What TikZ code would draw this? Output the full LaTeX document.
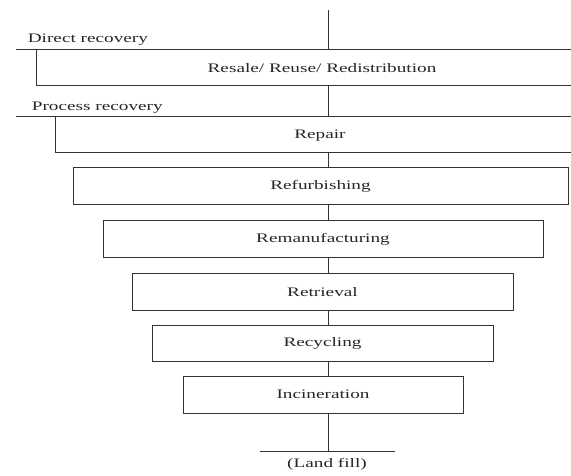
\documentclass[tikz,border=0pt]{standalone}
\usepackage{fontspec}
\setmainfont{Liberation Serif}[FakeStretch=1.48]
\begin{document}
\begin{tikzpicture}[x=1pt,y=-1pt,line width=1pt,
  ink/.style={draw=black!80},
  every node/.style={font=\fontsize{13}{15}\selectfont, text=black!85},
  stagebox/.style={draw=black!80, rectangle, inner sep=0pt}]
\useasboundingbox (0,0) rectangle (571,476);
% spine
\coordinate (spine) at (328,0);
\coordinate (top) at (328,10);
% Direct recovery
\coordinate (drL) at (16,50);
\coordinate (drR) at (571,50);
\coordinate (rbL) at (36,86);
\coordinate (rbR) at (571,86);
\node[anchor=west] (drlab) at (24,40) {Direct recovery};
\node (resale) at (322,68) {Resale/ Reuse/ Redistribution};
% Process recovery
\coordinate (prL) at (16,117);
\coordinate (prR) at (571,117);
\coordinate (pbL) at (55,153);
\coordinate (pbR) at (571,153);
\node[anchor=west] (prlab) at (28,108) {Process recovery};
\node (repair) at (320,136) {Repair};
% stages
\node[stagebox, minimum width=495pt, minimum height=37pt] (refurb) at (320.5,186.5) {Refurbishing};
\node[stagebox, minimum width=440pt, minimum height=37pt] (reman) at (323,239.5) {Remanufacturing};
\node[stagebox, minimum width=381pt, minimum height=36pt] (retr) at (322.5,292) {Retrieval};
\node[stagebox, minimum width=341pt, minimum height=36pt] (recyc) at (322.5,343) {Recycling};
\node[stagebox, minimum width=280pt, minimum height=37pt] (incin) at (323,394.5) {Incineration};
% landfill
\coordinate (lfL) at (260,451);
\coordinate (lfR) at (395,451);
\node (landfill) at (327,464) {(Land fill)};
% lines
\draw[ink] (drL) -- (drR);
\draw[ink] (drL -| rbL) -- (rbL) -- (rbR);
\draw[ink] (prL) -- (prR);
\draw[ink] (prL -| pbL) -- (pbL) -- (pbR);
\draw[ink] (lfL) -- (lfR);
% connectors
\draw[ink] (top) -- (spine |- drL);
\draw[ink] (spine |- rbL) -- (spine |- prL);
\draw[ink] (spine |- pbL) -- (spine |- refurb.north);
\draw[ink] (spine |- refurb.south) -- (spine |- reman.north);
\draw[ink] (spine |- reman.south) -- (spine |- retr.north);
\draw[ink] (spine |- retr.south) -- (spine |- recyc.north);
\draw[ink] (spine |- recyc.south) -- (spine |- incin.north);
\draw[ink] (spine |- incin.south) -- (spine |- lfL);
\end{tikzpicture}
\end{document}
